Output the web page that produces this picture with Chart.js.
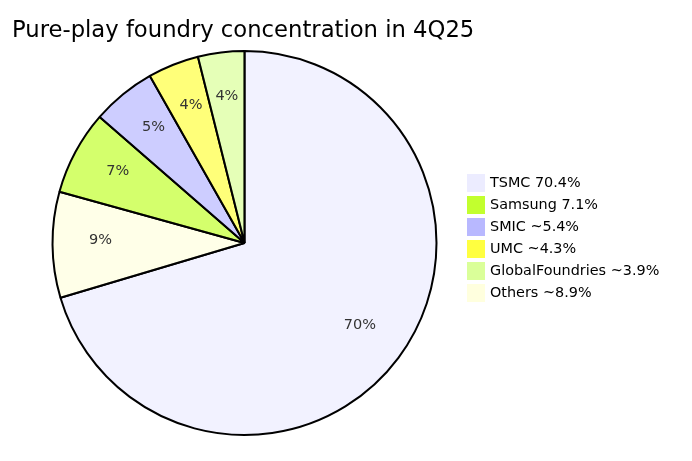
<!DOCTYPE html>
<html>
<head>
<meta charset="utf-8">
<script src="https://cdn.jsdelivr.net/npm/chart.js@4"></script>
<style>
  html, body { margin: 0; padding: 0; background: #fff; }
  #wrap { width: 692px; height: 461px; }
</style>
</head>
<body>
<div id="wrap"><canvas id="myChart" width="692" height="461"></canvas></div>
<script>
const chartTitle = "Pure-play foundry concentration in 4Q25";
const labels = ["TSMC 70.4%", "Samsung 7.1%", "SMIC ~5.4%", "UMC ~4.3%", "GlobalFoundries ~3.9%", "Others ~8.9%"];
const shares = [70.4, 7.1, 5.4, 4.3, 3.9, 8.9];
const colors = ["#ECECFF", "#C2FF2E", "#B8B8FF", "#FFFF40", "#DAFF99", "#FFFFDE"];

const FONT = "'DejaVu Sans', Verdana, sans-serif";

// slices go biggest first, legend keeps the original order
const order = shares.map((v, i) => i).sort((a, b) => shares[b] - shares[a]);
const total = shares.reduce((a, b) => a + b, 0);

function fade(hex) {
  const n = parseInt(hex.slice(1), 16);
  return "rgba(" + (n >> 16) + "," + ((n >> 8) & 255) + "," + (n & 255) + ",0.7)";
}

const extras = {
  id: "extras",
  afterDraw(chart) {
    const c = chart.ctx;
    c.save();
    // title
    c.fillStyle = "#000";
    c.font = "22.7px " + FONT;
    c.textBaseline = "alphabetic";
    c.textAlign = "left";
    c.fillText(chartTitle, 12, 37);

    // percent labels on slices, baseline sits on the centroid
    const meta = chart.getDatasetMeta(0);
    c.font = "14.5px " + FONT;
    c.fillStyle = "#333";
    c.textAlign = "center";
    c.textBaseline = "alphabetic";
    meta.data.forEach((arc, i) => {
      const mid = (arc.startAngle + arc.endAngle) / 2;
      const r = arc.outerRadius * 0.75;
      const pct = (chart.data.datasets[0].data[i] / total * 100).toFixed(0) + "%";
      c.fillText(pct, arc.x + Math.cos(mid) * r, arc.y + Math.sin(mid) * r);
    });

    // legend
    c.textAlign = "left";
    c.textBaseline = "middle";
    c.font = "14.4px " + FONT;
    labels.forEach((lab, i) => {
      const y = 174 + i * 22;
      c.fillStyle = colors[i];
      c.fillRect(467, y, 18, 18);
      c.fillStyle = "#000";
      c.fillText(lab, 490, y + 9);
    });
    c.restore();
  }
};

const ctx = document.getElementById("myChart").getContext("2d");
let myChart = new Chart(ctx, {
  type: "pie",
  data: {
    labels: order.map(i => labels[i]),
    datasets: [{
      data: order.map(i => shares[i]),
      backgroundColor: order.map(i => fade(colors[i])),
      borderColor: "#000",
      borderWidth: 2
    }]
  },
  options: {
    responsive: false,
    animation: false,
    layout: { padding: { top: 50, bottom: 25, left: 51.5, right: 254.5 } },
    plugins: {
      legend: { display: false },
      title: { display: false },
      tooltip: { enabled: false }
    }
  },
  plugins: [extras]
});
</script>
</body>
</html>
